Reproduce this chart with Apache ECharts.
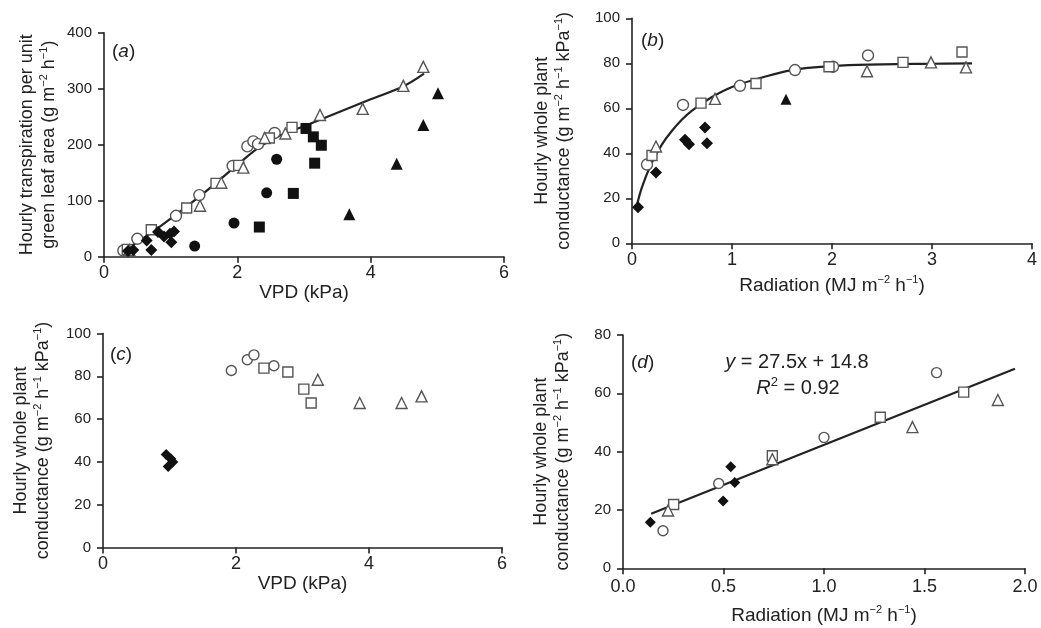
<!DOCTYPE html>
<html>
<head>
<meta charset="utf-8">
<script src="https://cdn.jsdelivr.net/npm/echarts@6/dist/echarts.min.js"></script>
<style>
  html, body { margin: 0; padding: 0; background: #fff; }
  #chart { width: 1041px; height: 628px; }
</style>
</head>
<body>
<div id="chart"></div>
<script>
// panel (a): transpiration vs VPD
const aOpenCircle = [[0.29, 11], [0.5, 32], [1.08, 73], [1.43, 110], [1.93, 162], [2.15, 197], [2.24, 206], [2.31, 201], [2.56, 221]];
const aOpenSquare = [[0.35, 13], [0.71, 48], [1.24, 87], [1.68, 131], [2.02, 163], [2.48, 212], [2.82, 231]];
const aOpenTriangle = [[0.38, 12], [1.44, 91], [1.76, 132], [2.09, 159], [2.41, 212], [2.72, 220], [3.24, 253], [3.88, 264], [4.49, 305], [4.79, 339]];
const aFilledCircle = [[1.36, 19], [1.95, 60], [2.44, 114], [2.59, 174]];
const aFilledSquare = [[2.33, 53], [2.84, 113], [3.03, 229], [3.14, 214], [3.16, 167], [3.26, 199]];
const aFilledTriangle = [[3.68, 76], [4.39, 166], [4.79, 235], [5.01, 292]];
const aFilledDiamond = [[0.36, 10], [0.44, 12], [0.64, 29], [0.71, 12], [0.81, 44], [0.9, 36], [0.99, 41], [1.01, 26], [1.05, 45]];
const aCurve = [[0.3, 10], [0.7, 42], [1.0, 68], [1.5, 114], [2.0, 164], [2.3, 193], [2.6, 214], [3.0, 233], [3.5, 257], [4.0, 281], [4.5, 305], [4.8, 327]];

// panel (b): conductance vs radiation
const bOpenCircle = [[0.15, 35], [0.51, 61.5], [1.08, 70], [1.63, 77], [2.01, 78.5], [2.36, 83.5]];
const bOpenSquare = [[0.2, 39], [0.69, 62.3], [1.24, 71], [1.97, 78.5], [2.71, 80.4], [3.3, 85]];
const bOpenTriangle = [[0.24, 43], [0.83, 64.2], [2.35, 76.5], [2.99, 80.4], [3.34, 78.2]];
const bFilledTriangle = [[1.54, 64]];
const bFilledDiamond = [[0.06, 16], [0.24, 31.5], [0.53, 46], [0.57, 44], [0.73, 51.5], [0.75, 44.5]];
const bCurve = [[0.05, 17], [0.1, 25], [0.2, 36], [0.3, 44], [0.4, 50], [0.5, 55], [0.6, 59], [0.8, 65], [1.0, 69.5], [1.25, 73], [1.6, 77], [2.0, 78.8], [2.5, 79.5], [3.0, 79.8], [3.4, 80]];

// panel (c): conductance vs VPD
const cOpenCircle = [[1.93, 82.7], [2.17, 87.7], [2.27, 90], [2.57, 84.9]];
const cOpenSquare = [[2.42, 83.8], [2.78, 82], [3.02, 74], [3.13, 67.5]];
const cOpenTriangle = [[3.23, 78.4], [3.86, 67.5], [4.49, 67.5], [4.79, 70.6]];
const cFilledDiamond = [[0.95, 43.5], [1.02, 41.5], [1.05, 40], [0.98, 37.8]];

// panel (d): conductance vs radiation, linear fit
const dOpenCircle = [[0.199, 12.9], [0.476, 29.1], [1.0, 44.9], [1.56, 67.1]];
const dOpenSquare = [[0.252, 21.9], [0.743, 38.6], [1.28, 51.8], [1.695, 60.4]];
const dOpenTriangle = [[0.224, 19.8], [0.743, 37.4], [1.44, 48.4], [1.865, 57.7]];
const dFilledDiamond = [[0.136, 15.8], [0.498, 23.1], [0.536, 34.8], [0.556, 29.4]];
const dFit = [[0.14, 18.7], [1.95, 68.4]];

const FONT = '"Liberation Sans", Arial, sans-serif';
const INK = '#222';

const sup = { fontSize: 11, fontFamily: FONT, color: INK, verticalAlign: 'top', lineHeight: 13 };
const txt = (size) => ({ fontSize: size, fontFamily: FONT, color: INK, lineHeight: 22 });

const yNameTrans = '{t|Hourly transpiration per unit}\n{t|green leaf area (g m}{s|−2}{t| h}{s|−1}{t|)}';
const yNameCond = '{t|Hourly whole plant}\n{t|conductance (g m}{s|−2}{t| h}{s|−1}{t| kPa}{s|−1}{t|)}';
const xNameVpd = 'VPD (kPa)';
const xNameRad = '{t|Radiation (MJ m}{s|−2}{t| h}{s|−1}{t|)}';

function axisBase(extra) {
  return Object.assign({
    type: 'value',
    splitLine: { show: false },
    axisLine: { show: true, onZero: false, lineStyle: { color: INK, width: 1.6 } },
    axisTick: { show: true, length: 6, lineStyle: { color: INK, width: 1.6 } },
    nameLocation: 'middle',
    nameMoveOverlap: false
  }, extra);
}

function xAx(idx, min, max, interval, name, gap, margin, fmt) {
  return axisBase({
    gridIndex: idx, min: min, max: max, interval: interval,
    name: name, nameGap: gap,
    nameTextStyle: Object.assign(txt(19), { rich: { t: txt(19), s: sup } }),
    axisLabel: { fontSize: 18, fontFamily: FONT, color: INK, margin: margin, formatter: fmt }
  });
}

function yAx(idx, min, max, interval, name, gap) {
  return axisBase({
    gridIndex: idx, min: min, max: max, interval: interval,
    name: name, nameGap: gap, nameRotate: 90,
    nameTextStyle: Object.assign(txt(18), { rich: { t: txt(18), s: sup } }),
    axisLabel: { fontSize: 15, fontFamily: FONT, color: INK, margin: 12 }
  });
}

function openPts(data, symbol, idx, size) {
  return {
    type: 'scatter', data: data, symbol: symbol, symbolSize: size,
    xAxisIndex: idx, yAxisIndex: idx, z: 3,
    itemStyle: { color: '#fff', borderColor: '#555', borderWidth: 1.4, opacity: 1 }
  };
}

function filledPts(data, symbol, idx, size) {
  return {
    type: 'scatter', data: data, symbol: symbol, symbolSize: size,
    xAxisIndex: idx, yAxisIndex: idx, z: 4,
    itemStyle: { color: '#111', opacity: 1 }
  };
}

function curve(data, idx, smooth) {
  return {
    type: 'line', data: data, smooth: smooth, showSymbol: false, symbol: 'none',
    xAxisIndex: idx, yAxisIndex: idx, z: 2,
    lineStyle: { color: INK, width: 2.2 }
  };
}

function panelLabel(letter, x, y) {
  return {
    type: 'text', x: x, y: y,
    style: {
      text: '{n|(}{i|' + letter + '}{n|)}',
      rich: {
        n: { fontSize: 19, fontFamily: FONT, fill: INK },
        i: { fontSize: 19, fontFamily: FONT, fontStyle: 'italic', fill: INK }
      },
      verticalAlign: 'middle'
    }
  };
}

const option = {
  backgroundColor: '#fff',
  animation: false,
  grid: [
    { left: 104, top: 32.7, width: 400, height: 224 },
    { left: 632, top: 18.3, width: 400, height: 225 },
    { left: 103, top: 333.5, width: 399, height: 214 },
    { left: 623, top: 335, width: 402, height: 233.3 }
  ],
  xAxis: [
    xAx(0, 0, 6, 2, xNameVpd, 25, 7),
    xAx(1, 0, 4, 1, xNameRad, 31, 8),
    xAx(2, 0, 6, 2, xNameVpd, 25, 8),
    xAx(3, 0, 2, 0.5, xNameRad, 36, 10, (v) => v.toFixed(1))
  ],
  yAxis: [
    yAx(0, 0, 400, 100, yNameTrans, 44),
    yAx(1, 0, 100, 20, yNameCond, 57),
    yAx(2, 0, 100, 20, yNameCond, 49),
    yAx(3, 0, 80, 20, yNameCond, 49)
  ],
  graphic: [
    panelLabel('a', 112, 52),
    panelLabel('b', 641, 41),
    panelLabel('c', 110, 355),
    panelLabel('d', 631, 363),
    {
      type: 'text', x: 797, y: 362,
      style: {
        text: '{i|y}{n| = 27.5x + 14.8}',
        rich: {
          n: { fontSize: 20, fontFamily: FONT, fill: INK },
          i: { fontSize: 20, fontFamily: FONT, fontStyle: 'italic', fill: INK }
        },
        align: 'center', verticalAlign: 'middle'
      }
    },
    {
      type: 'text', x: 798, y: 388,
      style: {
        text: '{i|R}{s|2}{n| = 0.92}',
        rich: {
          n: { fontSize: 20, fontFamily: FONT, fill: INK, lineHeight: 24 },
          i: { fontSize: 20, fontFamily: FONT, fontStyle: 'italic', fill: INK, lineHeight: 24 },
          s: { fontSize: 13, fontFamily: FONT, fill: INK, verticalAlign: 'top', lineHeight: 14 }
        },
        align: 'center', verticalAlign: 'middle'
      }
    }
  ],
  series: [
    curve(aCurve, 0, 0.35),
    openPts(aOpenCircle, 'circle', 0, 11),
    openPts(aOpenSquare, 'rect', 0, 10),
    openPts(aOpenTriangle, 'triangle', 0, 11),
    filledPts(aFilledCircle, 'circle', 0, 11),
    filledPts(aFilledSquare, 'rect', 0, 11),
    filledPts(aFilledTriangle, 'triangle', 0, 12),
    filledPts(aFilledDiamond, 'diamond', 0, 12),

    curve(bCurve, 1, 0.4),
    openPts(bOpenCircle, 'circle', 1, 11),
    openPts(bOpenSquare, 'rect', 1, 10),
    openPts(bOpenTriangle, 'triangle', 1, 11),
    filledPts(bFilledTriangle, 'triangle', 1, 11),
    filledPts(bFilledDiamond, 'diamond', 1, 12),

    openPts(cOpenCircle, 'circle', 2, 10),
    openPts(cOpenSquare, 'rect', 2, 10),
    openPts(cOpenTriangle, 'triangle', 2, 11),
    filledPts(cFilledDiamond, 'diamond', 2, 11),

    curve(dFit, 3, false),
    openPts(dOpenCircle, 'circle', 3, 10),
    openPts(dOpenSquare, 'rect', 3, 10),
    openPts(dOpenTriangle, 'triangle', 3, 11),
    filledPts(dFilledDiamond, 'diamond', 3, 11)
  ]
};

const myChart = echarts.init(document.getElementById('chart'), null, { renderer: 'canvas' });
myChart.setOption(option);
</script>
</body>
</html>
